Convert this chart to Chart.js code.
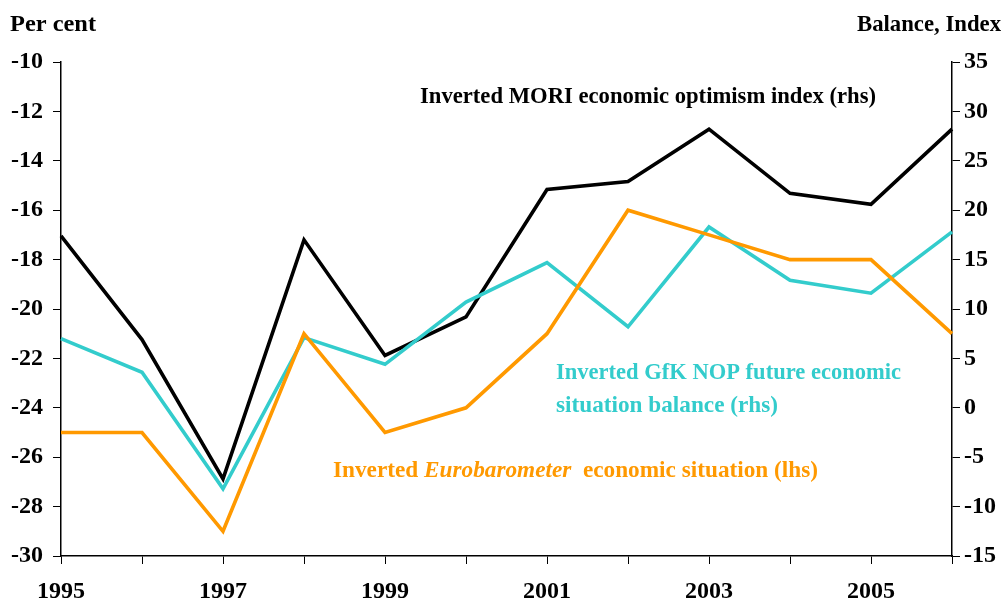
<!DOCTYPE html>
<html>
<head>
<meta charset="utf-8">
<script src="https://cdn.jsdelivr.net/npm/chart.js@4.4.1/dist/chart.umd.min.js"></script>
<style>
    body { margin: 0; background: #fff; }
    #wrap { width: 1008px; height: 604px; }
</style>
</head>
<body>
<div id="wrap"><canvas id="chart" width="1008" height="604"></canvas></div>
<script>
// data
const years = ['1995', '1996', '1997', '1998', '1999', '2000', '2001', '2002', '2003', '2004', '2005', '2006'];
const euroBarometer = [-25, -25, -29, -21, -25, -24, -21, -16, -17, -18, -18, -21];   // lhs
const moriIndex = [17.4, 6.9, -7.2, 17.0, 5.3, 9.2, 22.1, 22.9, 28.2, 21.7, 20.6, 28.2]; // rhs
const gfkNop = [7.0, 3.6, -8.2, 7.1, 4.4, 10.7, 14.7, 8.2, 18.3, 12.9, 11.6, 17.8];      // rhs
const leftTicks = { min: -30, max: -10, step: 2 };
const rightTicks = { min: -15, max: 35, step: 5 };

const SERIF = "'Liberation Serif', 'Times New Roman', serif";
const ORANGE = '#FF9900';
const TEAL = '#33CCCC';

// draw a run of text pieces squeezed/stretched to a given width
function drawFitted(ctx, pieces, x, y, width, color) {
    let natural = 0;
    pieces.forEach(p => { ctx.font = p.font; natural += ctx.measureText(p.text).width; });
    ctx.save();
    ctx.translate(x, y);
    ctx.scale(width / natural, 1);
    ctx.fillStyle = color;
    ctx.textBaseline = 'alphabetic';
    ctx.textAlign = 'left';
    let cx = 0;
    pieces.forEach(p => {
        ctx.font = p.font;
        ctx.fillText(p.text, cx, 0);
        cx += ctx.measureText(p.text).width;
    });
    ctx.restore();
}

const labelsPlugin = {
    id: 'labels',
    afterDraw(chart) {
        const ctx = chart.ctx;
        const b = 'bold 24px ' + SERIF;
        const bi = 'italic bold 24px ' + SERIF;
        drawFitted(ctx, [{ text: 'Per cent', font: b }], 10, 31, 86, '#000');
        drawFitted(ctx, [{ text: 'Balance, Index', font: b }], 857, 31, 144, '#000');
        drawFitted(ctx, [{ text: 'Inverted MORI economic optimism index (rhs)', font: b }], 420, 103, 456, '#000');
        drawFitted(ctx, [{ text: 'Inverted GfK NOP future economic', font: b }], 556, 379, 345, TEAL);
        drawFitted(ctx, [{ text: 'situation balance (rhs)', font: b }], 556, 412, 222, TEAL);
        drawFitted(ctx, [
            { text: 'Inverted ', font: b },
            { text: 'Eurobarometer', font: bi },
            { text: '  economic situation (lhs)', font: b }
        ], 333, 477, 485, ORANGE);
    }
};

const axisGrid = { drawOnChartArea: false, drawTicks: true, tickLength: 8, color: '#000', lineWidth: 1 };
const axisBorder = { color: '#000', width: 1.5 };
const tickFont = { family: SERIF, size: 24, weight: 'bold' };

new Chart(document.getElementById('chart'), {
    type: 'line',
    data: {
        labels: years,
        datasets: [
            { label: 'Eurobarometer', data: euroBarometer, yAxisID: 'yL', borderColor: ORANGE, borderWidth: 3.6 },
            { label: 'GfK NOP', data: gfkNop, yAxisID: 'yR', borderColor: TEAL, borderWidth: 3.6 },
            { label: 'MORI', data: moriIndex, yAxisID: 'yR', borderColor: '#000', borderWidth: 3.6 }
        ]
    },
    options: {
        responsive: false,
        animation: false,
        elements: { point: { radius: 0 }, line: { tension: 0, borderJoinStyle: 'miter' } },
        layout: { padding: { top: 62, left: 0, right: 0, bottom: 0 } },
        plugins: { legend: { display: false }, tooltip: { enabled: false } },
        scales: {
            x: {
                type: 'category',
                offset: false,
                grid: axisGrid,
                border: axisBorder,
                ticks: {
                    color: '#000',
                    font: tickFont,
                    padding: 13,
                    autoSkip: false,
                    maxRotation: 0,
                    callback: (v, i) => (i % 2 === 0 ? years[i] : '')
                },
                afterFit: s => { s.height = 48; }
            },
            yL: {
                position: 'left',
                min: leftTicks.min,
                max: leftTicks.max,
                grid: axisGrid,
                border: axisBorder,
                ticks: { stepSize: leftTicks.step, color: '#000', font: tickFont, padding: 10 },
                afterFit: s => { s.width = 61; }
            },
            yR: {
                position: 'right',
                min: rightTicks.min,
                max: rightTicks.max,
                grid: axisGrid,
                border: axisBorder,
                ticks: { stepSize: rightTicks.step, color: '#000', font: tickFont, padding: 4 },
                afterFit: s => { s.width = 56; }
            }
        }
    },
    plugins: [labelsPlugin]
});
</script>
</body>
</html>
